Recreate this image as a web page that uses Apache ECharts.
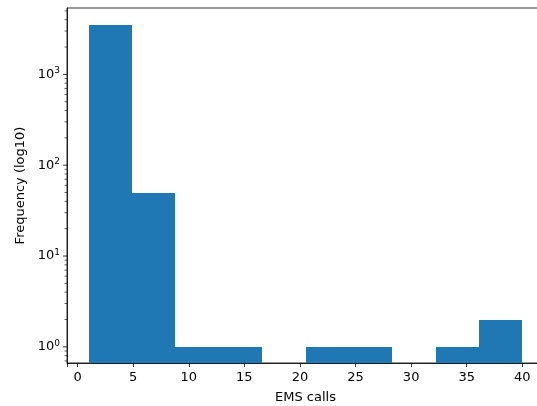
<!DOCTYPE html>
<html>
<head>
<meta charset="utf-8">
<script src="https://cdn.jsdelivr.net/npm/echarts@6/dist/echarts.min.js"></script>
<style>
  html, body { margin: 0; padding: 0; background: #fff; }
  #chart { width: 537px; height: 406px; }
</style>
</head>
<body>
<div id="chart"></div>
<script>
// histogram bins (EMS calls) and counts
const binEdges = [1, 4.9, 8.8, 12.7, 16.6, 20.5, 24.4, 28.3, 32.2, 36.1, 40]
const counts = [3540, 49, 1, 1, 0, 1, 1, 0, 1, 2]
const xTicks = [0, 5, 10, 15, 20, 25, 30, 35, 40]
const yMajor = [1, 10, 100, 1000]
const yMinor = [0.7, 0.8, 0.9, 2, 3, 4, 5, 6, 7, 8, 9, 20, 30, 40, 50, 60, 70, 80, 90,
  200, 300, 400, 500, 600, 700, 800, 900, 2000, 3000, 4000, 5000]

const X_MIN = -0.95
const X_MAX = 41.95
const Y_MIN = 0.664
const Y_MAX = 5380
const FONT = 'DejaVu Sans'

const bars = []
for (let i = 0; i < counts.length; i++) {
  if (counts[i] > 0) bars.push([binEdges[i], binEdges[i + 1], counts[i]])
}

const isPow10 = (v) => {
  const l = Math.log10(v)
  return Math.abs(l - Math.round(l)) < 1e-6
}

// tick marks on the left spine (major + minor), drawn from the log scale
const tickItem = (len, w) => (params, api) => {
  const p = api.coord([X_MIN, api.value(0)])
  return {
    type: 'line',
    shape: { x1: p[0] - len, y1: p[1], x2: p[0], y2: p[1] },
    style: { stroke: '#000', lineWidth: w }
  }
}

const chart = echarts.init(document.getElementById('chart'), null, { renderer: 'canvas' })
chart.setOption({
  animation: false,
  backgroundColor: '#fff',
  grid: {
    left: 67, top: 8, right: -7, bottom: 43,
    outerBoundsMode: 'none',
    containLabel: false,
    show: true, borderColor: '#000', borderWidth: 0.8
  },
  xAxis: {
    type: 'value',
    min: X_MIN,
    max: X_MAX,
    splitNumber: 8,
    name: 'EMS calls',
    nameLocation: 'middle',
    nameGap: 28,
    nameTextStyle: { fontFamily: FONT, fontSize: 13, color: '#000' },
    axisLine: { show: true, onZero: false, lineStyle: { color: '#000', width: 0.8 } },
    axisTick: { show: true, inside: false, length: 4, lineStyle: { color: '#000', width: 0.8 } },
    axisLabel: {
      fontFamily: FONT, fontSize: 13, color: '#000', margin: 8,
      formatter: (v) => (xTicks.indexOf(Math.round(v * 1000) / 1000) >= 0 ? String(v) : '')
    },
    splitLine: { show: false }
  },
  yAxis: {
    type: 'log',
    logBase: 10,
    min: Y_MIN,
    max: Y_MAX,
    name: 'Frequency (log10)',
    nameLocation: 'middle',
    nameGap: 40,
    nameTextStyle: { fontFamily: FONT, fontSize: 13, color: '#000' },
    axisLine: { show: true, onZero: false, lineStyle: { color: '#000', width: 0.8 } },
    axisTick: { show: false },
    axisLabel: {
      fontFamily: FONT, fontSize: 13, color: '#000', margin: 7,
      formatter: (v) => (isPow10(v) ? '10{sup|' + Math.round(Math.log10(v)) + '}' : ''),
      rich: {
        sup: { fontFamily: FONT, fontSize: 9, color: '#000', padding: [0, 0, 7, 0] }
      }
    },
    splitLine: { show: false }
  },
  series: [
    {
      type: 'custom',
      name: 'hist',
      clip: true,
      data: bars,
      encode: { x: [0, 1], y: 2 },
      renderItem: (params, api) => {
        const a = api.coord([api.value(0), api.value(2)])
        const b = api.coord([api.value(1), Y_MIN])
        // snap to whole pixels so neighbouring bins join without seams
        const x0 = Math.round(a[0])
        const x1 = Math.round(b[0])
        const y0 = Math.round(a[1])
        return {
          type: 'rect',
          shape: { x: x0, y: y0, width: x1 - x0, height: b[1] - y0 },
          style: { fill: '#1f77b4' }
        }
      }
    },
    {
      type: 'custom',
      clip: false,
      silent: true,
      data: yMajor.map((v) => [v]),
      encode: { y: 0 },
      renderItem: tickItem(4, 0.8)
    },
    {
      type: 'custom',
      clip: false,
      silent: true,
      data: yMinor.map((v) => [v]),
      encode: { y: 0 },
      renderItem: tickItem(2.5, 0.6)
    }
  ]
})
</script>
</body>
</html>
